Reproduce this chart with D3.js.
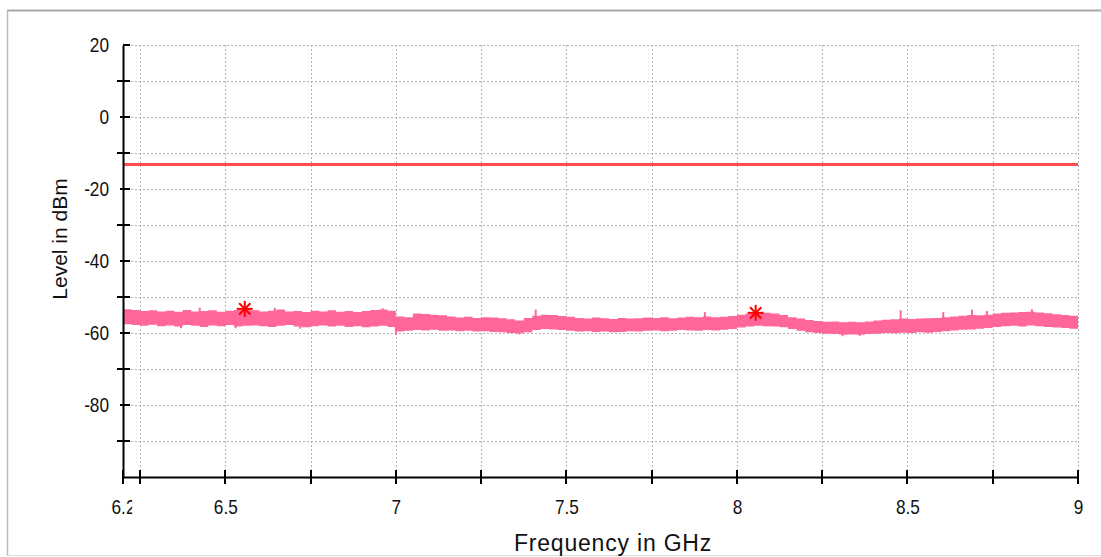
<!DOCTYPE html>
<html>
<head>
<meta charset="utf-8">
<script src="https://cdn.jsdelivr.net/npm/d3@7"></script>
<style>
  html, body { margin: 0; padding: 0; background: #fff; }
  .tick-label { font-family: "Liberation Sans", Arial, sans-serif; font-size: 21px; fill: #111; }
  .axis-title { font-family: "Liberation Sans", Arial, sans-serif; fill: #111; }
</style>
</head>
<body>
<div id="chart"></div>
<script>
// frequency grid of the trace envelope (GHz)
const traceFreq = [
  6.2, 6.225, 6.25, 6.275, 6.3, 6.325, 6.35, 6.375, 6.4, 6.425, 6.45, 6.475, 6.5, 6.525, 6.55, 6.575,
  6.6, 6.625, 6.65, 6.675, 6.7, 6.725, 6.75, 6.775, 6.8, 6.825, 6.85, 6.875, 6.9, 6.925, 6.95, 6.975,
  7.0, 7.025, 7.05, 7.075, 7.1, 7.125, 7.15, 7.175, 7.2, 7.225, 7.25, 7.275, 7.3, 7.325, 7.35, 7.375,
  7.4, 7.425, 7.45, 7.475, 7.5, 7.525, 7.55, 7.575, 7.6, 7.625, 7.65, 7.675, 7.7, 7.725, 7.75, 7.775,
  7.8, 7.825, 7.85, 7.875, 7.9, 7.925, 7.95, 7.975,
  8.0, 8.025, 8.05, 8.075, 8.1, 8.125, 8.15, 8.175, 8.2, 8.225, 8.25, 8.275, 8.3, 8.325, 8.35, 8.375,
  8.4, 8.425, 8.45, 8.475, 8.5, 8.525, 8.55, 8.575, 8.6, 8.625, 8.65, 8.675, 8.7, 8.725, 8.75, 8.775,
  8.8, 8.825, 8.85, 8.875, 8.9, 8.925, 8.95, 8.975,
  9.0
];
// upper edge of the noise band (dBm)
const traceUpper = [
  -53.4, -53.6, -53.9, -53.7, -54.0, -53.8, -54.1, -53.6, -54.0, -53.9, -53.7, -54.1, -53.8, -53.6, -53.4, -53.7,
  -54.0, -53.8, -53.5, -54.0, -53.9, -54.2, -53.8, -54.0, -53.7, -54.1, -53.9, -54.2, -53.9, -53.6, -53.5, -53.8,
  -55.4, -55.6, -54.6, -54.7, -54.9, -55.1, -55.4, -55.7, -55.5, -55.8, -55.6, -55.7, -55.9, -56.2, -56.5, -55.8,
  -55.2, -54.9, -55.0, -55.3, -55.5, -55.8, -56.0, -55.7, -55.9, -56.1, -55.8, -56.0, -55.9, -55.7, -55.8, -55.6,
  -55.9, -55.7, -55.5, -55.6, -55.4, -55.6, -55.5, -55.3,
  -54.9, -54.6, -54.4, -54.4, -54.6, -55.0, -55.6, -56.0, -56.4, -56.7, -56.9, -56.8, -57.0, -56.9, -57.0, -56.8,
  -56.5, -56.3, -56.2, -56.0, -56.1, -56.0, -55.9, -55.8, -55.6, -55.4, -55.2, -55.0, -55.1, -54.9, -54.6, -54.4,
  -54.3, -54.2, -54.1, -54.3, -54.5, -54.8, -55.0, -55.2,
  -55.3
];
// lower edge of the noise band (dBm)
const traceLower = [
  -57.6, -57.8, -58.0, -57.7, -58.1, -57.9, -58.2, -57.8, -58.0, -58.3, -57.9, -58.1, -57.8, -58.2, -58.0, -57.9,
  -58.1, -58.3, -58.0, -57.8, -58.2, -58.4, -58.1, -57.9, -58.2, -58.0, -58.3, -58.1, -58.4, -58.2, -58.0, -58.3,
  -59.6, -59.4, -59.2, -59.3, -59.1, -59.4, -59.3, -59.5, -59.4, -59.6, -59.5, -59.7, -59.8, -60.0, -60.1, -59.8,
  -59.2, -58.9, -59.0, -59.2, -59.4, -59.6, -59.5, -59.7, -59.6, -59.8, -59.7, -59.5, -59.6, -59.4, -59.3, -59.5,
  -59.4, -59.2, -59.3, -59.4, -59.2, -59.3, -59.1, -58.9,
  -58.5, -58.2, -58.0, -58.1, -58.2, -58.4, -58.9, -59.4, -59.8, -60.0, -60.2, -60.3, -60.5, -60.4, -60.5, -60.3,
  -60.2, -60.0, -60.1, -59.9, -60.0, -59.8, -59.9, -59.7, -59.5, -59.3, -59.1, -59.0, -58.8, -58.6, -58.3, -58.1,
  -58.0, -58.2, -57.9, -58.1, -58.3, -58.5, -58.6, -58.8,
  -58.8
];
// single noise spikes above the band
const spikeFreq = [6.425, 6.645, 6.961, 7.41, 7.906, 8.48, 8.605, 8.689, 8.733, 8.865];
const spikeTop = [-53.0, -53.0, -53.1, -53.5, -54.2, -53.7, -54.2, -53.5, -53.9, -53.4];
// single noise spikes below the band
const dipFreq = [6.37, 6.53, 6.72, 7.0, 7.36, 8.31, 8.36];
const dipBottom = [-58.7, -58.7, -58.8, -60.5, -60.4, -60.9, -60.8];

// peak markers
const markerFreq = [6.557, 8.055];
const markerLevel = [-53.3, -54.4];

// limit line
const limitLevel = -13;

// axes
const xTickValues = [6.2, 6.25, 6.5, 6.75, 7, 7.25, 7.5, 7.75, 8, 8.25, 8.5, 8.75, 9];
const xLabelValues = [6.2, 6.5, 7, 7.5, 8, 8.5, 9];
const yTickValues = [20, 10, 0, -10, -20, -30, -40, -50, -60, -70, -80, -90];
const yLabelValues = [20, 0, -20, -40, -60, -80];

const W = 1101, H = 557;
const narrow = 0.82; // tick labels use a condensed face in the reference
const svg = d3.select("#chart").append("svg")
  .attr("width", W).attr("height", H);

const x = d3.scaleLinear().domain([6.2, 9]).range([123, 1078]);
const y = d3.scaleLinear().domain([-100, 20]).range([477, 45]);
const px = v => Math.round(v) + 0.5;

// frame
svg.append("line").attr("x1", 7).attr("x2", W).attr("y1", 10.5).attr("y2", 10.5)
  .attr("stroke", "#a8a8a8").attr("stroke-width", 2);
svg.append("line").attr("x1", 7.5).attr("x2", 7.5).attr("y1", 10).attr("y2", 556)
  .attr("stroke", "#bdbdbd").attr("stroke-width", 1.5);
svg.append("line").attr("x1", 7).attr("x2", W).attr("y1", 555.5).attr("y2", 555.5)
  .attr("stroke", "#dcdcdc").attr("stroke-width", 1);

// grid (dotted)
const grid = svg.append("g")
  .attr("stroke", "#b4b4b4").attr("stroke-width", 1).attr("stroke-dasharray", "2,2");
grid.selectAll("line.h").data(yTickValues).enter().append("line")
  .attr("x1", x(6.2)).attr("x2", x(9))
  .attr("y1", d => px(y(d))).attr("y2", d => px(y(d)));
grid.selectAll("line.v").data(xTickValues.filter(d => d > 6.2)).enter().append("line")
  .attr("y1", y(20)).attr("y2", y(-100))
  .attr("x1", d => px(x(d))).attr("x2", d => px(x(d)));

// limit line
svg.append("line")
  .attr("x1", x(6.2)).attr("x2", x(9))
  .attr("y1", px(y(limitLevel))).attr("y2", px(y(limitLevel)))
  .attr("stroke", "#ff4d4d").attr("stroke-width", 3);

// trace band
const trace = traceFreq.map((f, i) => ({ f, hi: traceUpper[i], lo: traceLower[i] }));
const area = d3.area()
  .x(d => x(d.f)).y0(d => y(d.lo)).y1(d => y(d.hi))
  .curve(d3.curveStepAfter);
svg.append("path").datum(trace)
  .attr("d", area).attr("fill", "#ff6699");

svg.append("g").selectAll("line").data(spikeFreq).enter().append("line")
  .attr("x1", d => x(d)).attr("x2", d => x(d))
  .attr("y1", (d, i) => y(spikeTop[i])).attr("y2", y(-56))
  .attr("stroke", "#ff6699").attr("stroke-width", 2);
svg.append("g").selectAll("line").data(dipFreq).enter().append("line")
  .attr("x1", d => x(d)).attr("x2", d => x(d))
  .attr("y1", (d, i) => y(dipBottom[i])).attr("y2", y(-57))
  .attr("stroke", "#ff6699").attr("stroke-width", 2);

// axes
const xAxis = svg.append("g").attr("transform", `translate(0,${y(-100)})`)
  .call(d3.axisBottom(x).tickValues(xTickValues).tickSize(7).tickSizeOuter(0).tickFormat(""));
xAxis.select(".domain").attr("stroke", "#000").attr("stroke-width", 2);
xAxis.selectAll(".tick").attr("transform", d => `translate(${Math.round(x(d))},0)`);
xAxis.selectAll(".tick line").attr("y1", -7).attr("stroke", "#000").attr("stroke-width", 2);

const yAxis = svg.append("g").attr("transform", `translate(${x(6.2)},0)`)
  .call(d3.axisLeft(y).tickValues(yTickValues).tickSize(6).tickSizeOuter(0).tickFormat(""));
yAxis.select(".domain").attr("stroke", "#000").attr("stroke-width", 2);
yAxis.selectAll(".tick").attr("transform", d => `translate(0,${Math.round(y(d))})`);
yAxis.selectAll(".tick line")
  .attr("x1", 7)
  .attr("x2", d => d === 20 ? 0 : (yLabelValues.includes(d) ? -3 : -6))
  .attr("stroke", "#000").attr("stroke-width", 2);

// tick labels
svg.append("defs").append("clipPath").attr("id", "clip62")
  .append("rect").attr("x", -30).attr("y", 0).attr("width", 40.6).attr("height", 60);

const xLab = svg.append("g").attr("transform", `translate(0,${y(-100)})`)
  .call(d3.axisBottom(x).tickValues(xLabelValues).tickSize(0).tickPadding(22).tickFormat(d3.format("")));
xLab.select(".domain").remove();
xLab.selectAll("text").attr("class", "tick-label")
  .attr("transform", `scale(${narrow},1)`);
// the first label is cut off on its right side, as in the reference
xLab.selectAll(".tick").filter(d => d === 6.2).select("text").attr("clip-path", "url(#clip62)");

const yLab = svg.append("g").attr("transform", `translate(${x(6.2)},0)`)
  .call(d3.axisLeft(y).tickValues(yLabelValues).tickSize(0).tickPadding(14).tickFormat(d3.format("")));
yLab.select(".domain").remove();
yLab.selectAll("text").attr("class", "tick-label")
  .attr("x", -14 / narrow)
  .attr("transform", `scale(${narrow},1)`)
  .text(d => d < 0 ? "-" + Math.abs(d) : d);

// markers
const mk = svg.append("g").attr("stroke", "#ff0000").attr("stroke-width", 2);
markerFreq.forEach((f, i) => {
  const cx = x(f), cy = y(markerLevel[i]), r = 8;
  [0, 45, 90, 135].forEach(a => {
    const dx = r * Math.cos(a * Math.PI / 180), dy = r * Math.sin(a * Math.PI / 180);
    mk.append("line").attr("x1", cx - dx).attr("x2", cx + dx).attr("y1", cy - dy).attr("y2", cy + dy);
  });
});

// axis titles
svg.append("text").attr("class", "axis-title")
  .attr("x", 613).attr("y", 551)
  .attr("text-anchor", "middle")
  .style("font-size", "23px").style("letter-spacing", "0.8px")
  .text("Frequency in GHz");

svg.append("text").attr("class", "axis-title")
  .attr("transform", "translate(67,239) rotate(-90)")
  .attr("text-anchor", "middle")
  .style("font-size", "21px")
  .text("Level in dBm");
</script>
</body>
</html>
